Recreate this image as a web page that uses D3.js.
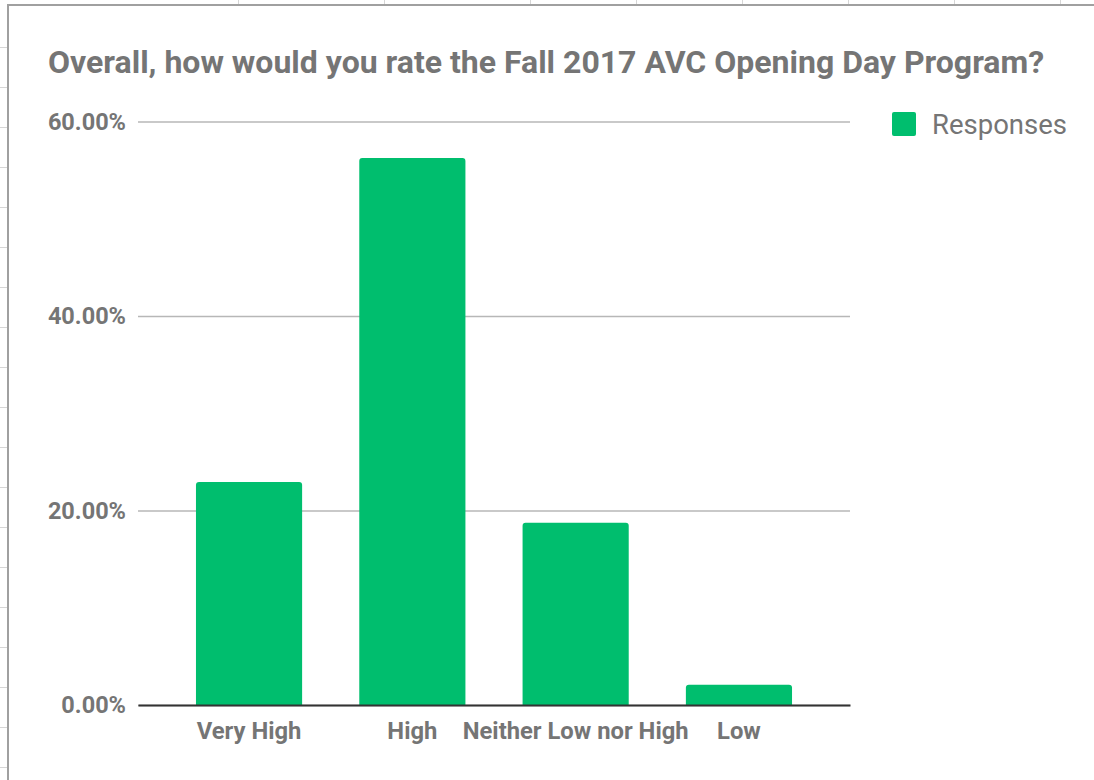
<!DOCTYPE html>
<html>
<head>
<meta charset="utf-8">
<script src="https://cdn.jsdelivr.net/npm/d3@7"></script>
<style>
	html, body { margin: 0; padding: 0; background: #fff; }
	svg { display: block; font-family: Roboto, "Noto Sans", sans-serif; }
</style>
</head>
<body>
<svg id="chart"></svg>
<script>
// chart data
const title = "Overall, how would you rate the Fall 2017 AVC Opening Day Program?";
const categories = ["Very High", "High", "Neither Low nor High", "Low"];
const responses = [22.92, 56.25, 18.75, 2.08]; // percent of responses
const yTicks = [0, 20, 40, 60];
const seriesName = "Responses";

const w = 1094;
const h = 780;
const green = "#00be6e";
const textGray = "#757575";

const svg = d3.select("#chart").attr("width", w).attr("height", h);

// spreadsheet cells peeking out behind the chart
const sheet = svg.append("g").attr("stroke", "#d6d6d6").attr("stroke-width", 1);
d3.range(47, h, 40).forEach((y) => {
	sheet.append("line").attr("x1", 0).attr("x2", 8).attr("y1", y + 0.5).attr("y2", y + 0.5);
});
[238, 384, 530, 636, 742, 848, 954, 1060].forEach((x) => {
	sheet.append("line").attr("x1", x + 0.5).attr("x2", x + 0.5).attr("y1", 0).attr("y2", 5);
});

// chart frame
svg.append("path")
	.attr("d", `M8,${h} L8,5 L${w},5`)
	.attr("fill", "none")
	.attr("stroke", "#a0a0a0")
	.attr("stroke-width", 2);

// plot area
const plot = { left: 138, right: 850, top: 121.5, bottom: 705 };

const xScale = d3.scaleBand()
	.domain(categories)
	.range([plot.left, plot.right])
	.paddingInner(0.35)
	.paddingOuter(0.355);

const yScale = d3.scaleLinear()
	.domain([0, 60])
	.range([plot.bottom, plot.top]);

// title
svg.append("text")
	.attr("x", 48)
	.attr("y", 73)
	.attr("fill", textGray)
	.style("font-size", "32px")
	.style("font-weight", "bold")
	.text(title);

// gridlines + y labels
const yAxis = d3.axisLeft(yScale)
	.tickValues(yTicks)
	.tickSize(-(plot.right - plot.left))
	.tickPadding(12)
	.tickFormat((d) => d.toFixed(2) + "%");

const yg = svg.append("g")
	.attr("transform", `translate(${plot.left},0)`)
	.call(yAxis);
yg.select(".domain").remove();
yg.selectAll(".tick line").attr("stroke", "#b7b7b7").attr("stroke-width", 1.5);
yg.selectAll(".tick text")
	.attr("fill", textGray)
	.style("font-size", "23.5px")
	.style("font-weight", "bold")
	.style("font-family", "Roboto, sans-serif");

// bars, rounded on top only
const r = 3;
svg.selectAll(".bar")
	.data(responses)
	.enter()
	.append("path")
	.attr("class", "bar")
	.attr("fill", green)
	.attr("d", (d, i) => {
		const x0 = xScale(categories[i]);
		const x1 = x0 + xScale.bandwidth();
		const y0 = yScale(d);
		const yb = yScale(0);
		return `M${x0},${yb} L${x0},${y0 + r} Q${x0},${y0} ${x0 + r},${y0} L${x1 - r},${y0} Q${x1},${y0} ${x1},${y0 + r} L${x1},${yb} Z`;
	});

// baseline + x labels
const xAxis = d3.axisBottom(xScale).tickSize(0).tickPadding(17);
const xg = svg.append("g")
	.attr("transform", `translate(0,${yScale(0)})`)
	.call(xAxis);
xg.select(".domain").attr("stroke", "#333").attr("stroke-width", 2);
xg.selectAll(".tick text")
	.attr("fill", textGray)
	.style("font-size", "23.8px")
	.style("font-weight", "bold")
	.style("font-family", "Roboto, sans-serif");

// legend
const legend = svg.append("g").attr("transform", "translate(892,112)");
legend.append("rect")
	.attr("width", 24)
	.attr("height", 24)
	.attr("rx", 2)
	.attr("fill", green);
legend.append("text")
	.attr("x", 40)
	.attr("y", 22)
	.attr("fill", textGray)
	.style("font-size", "27.5px")
	.text(seriesName);
</script>
</body>
</html>
